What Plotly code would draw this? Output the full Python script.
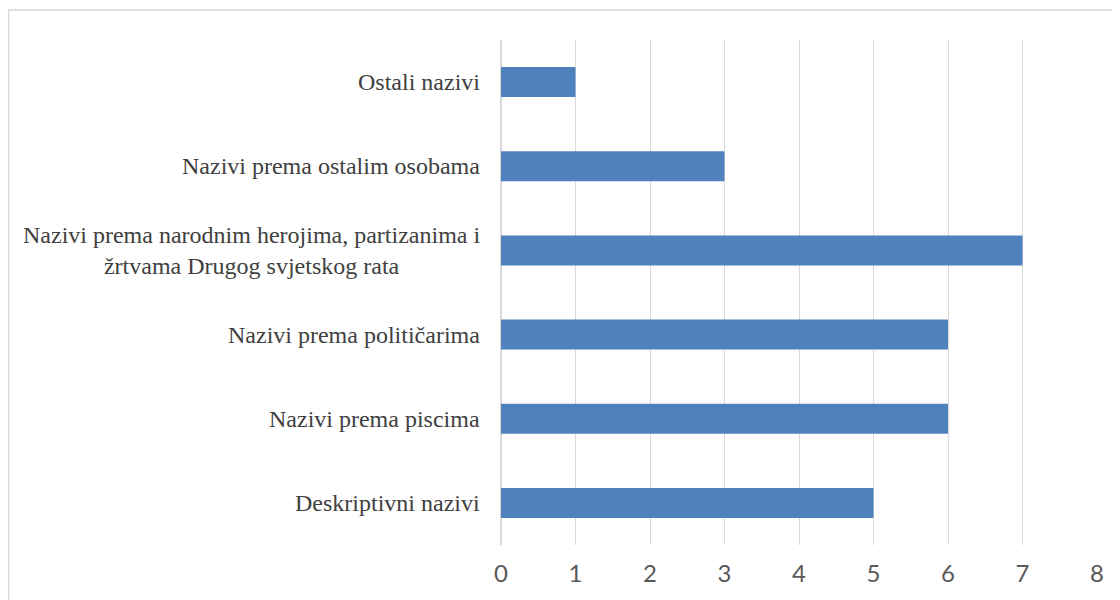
import plotly.graph_objects as go

# kategorije odozdo prema gore (kao u Excelu)
categories = [
    "Deskriptivni nazivi",
    "Nazivi prema piscima",
    "Nazivi prema političarima",
    "Nazivi prema narodnim herojima, partizanima i<br>žrtvama Drugog svjetskog rata",
    "Nazivi prema ostalim osobama",
    "Ostali nazivi",
]
values = [5, 6, 6, 7, 3, 1]
x_ticks = [0, 1, 2, 3, 4, 5, 6, 7, 8]

# stranica ima 8px margine tijela, pa je figura malo manja
W, H = 1112, 592
M_L, M_R, M_T, M_B = 493, 23, 32, 55
GRID = "#d9d9d9"
SERIF = "'Times New Roman', 'Liberation Serif', 'DejaVu Serif', serif"

fig = go.Figure(go.Bar(
    x=values,
    y=categories,
    orientation="h",
    marker=dict(color="#4f81bd", line=dict(width=0)),
    hoverinfo="x+y",
))

# nazivi kategorija kao anotacije (drugi red centriran kao u Excelu)
for cat in categories:
    fig.add_annotation(
        x=0, xref="paper", y=cat, yref="y",
        text=cat, showarrow=False,
        xanchor="right", yanchor="middle", align="center",
        xshift=-19,
        font=dict(family=SERIF, size=24, color="#404040"),
    )

# okvir grafikona (vidljiv samo lijevo i gore)
pw, ph = W - M_L - M_R, H - M_T - M_B
fig.add_shape(
    type="rect", xref="paper", yref="paper",
    x0=(0.5 - M_L) / pw, x1=(W + 20 - M_L) / pw,
    y0=-(M_B + 20) / ph, y1=(H - M_B - 2) / ph,
    line=dict(color=GRID, width=1.5), fillcolor="rgba(0,0,0,0)", layer="below",
)

fig.update_layout(
    width=W, height=H,
    margin=dict(l=M_L, r=M_R, t=M_T, b=M_B),
    paper_bgcolor="white", plot_bgcolor="white",
    bargap=0.644,
    showlegend=False,
    font=dict(family=SERIF),
    xaxis=dict(
        range=[0, 8], tickvals=x_ticks, showgrid=True, gridcolor=GRID, gridwidth=1,
        zeroline=True, zerolinecolor=GRID, zerolinewidth=1.5, showline=False,
        ticks="", ticklabelstandoff=12,
        tickfont=dict(family="Lato", size=24, color="#595959"),
        fixedrange=True,
    ),
    yaxis=dict(
        categoryorder="array", categoryarray=categories,
        showticklabels=False, showgrid=False, zeroline=False, ticks="",
        fixedrange=True,
    ),
)

fig.write_html("out.html")
